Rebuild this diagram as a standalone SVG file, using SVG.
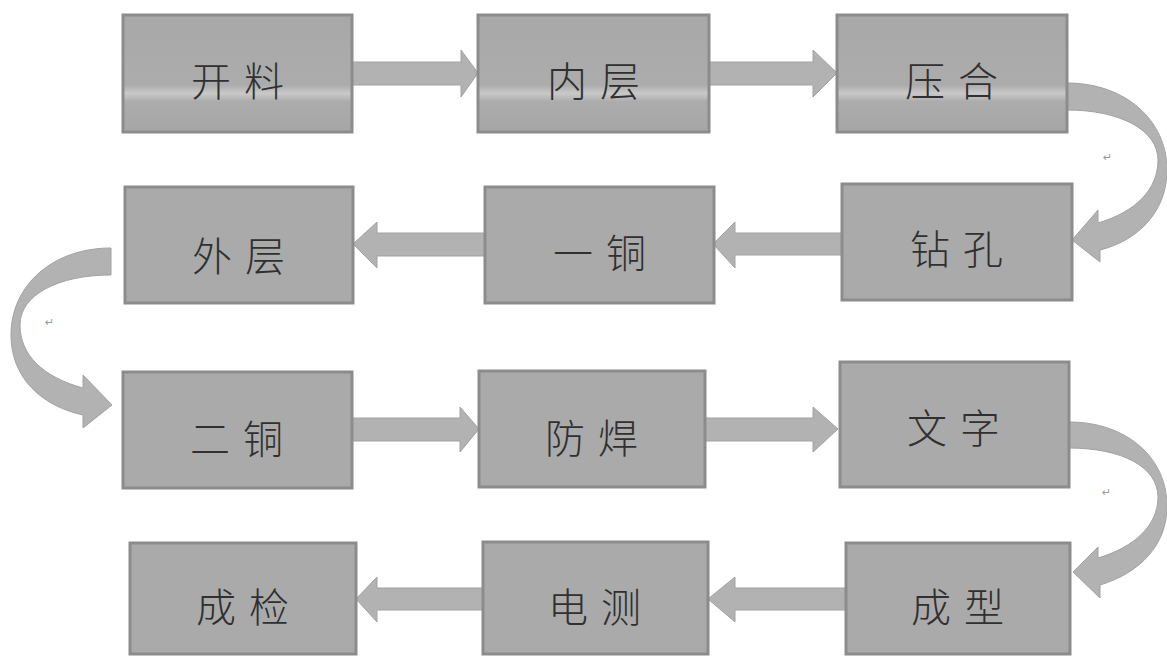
<svg xmlns="http://www.w3.org/2000/svg" width="1167" height="658" viewBox="0 0 1167 658">
<defs>
<style>
.box{fill:#aaaaaa;stroke:#8c8c8c;stroke-width:3}
.boxt{fill:url(#band);stroke:#8c8c8c;stroke-width:3}
.lbl{font-family:"Noto Sans CJK SC","Noto Sans CJK JP",sans-serif;font-size:40px;font-weight:300;fill:#303030;text-anchor:middle;dominant-baseline:central;letter-spacing:13px}
.arr{fill:#b2b2b2;stroke:#a2a2a2;stroke-width:1}
.mark{font-family:"DejaVu Sans",sans-serif;font-size:11px;fill:#9a9a9a}
</style>
<linearGradient id="band" x1="0" y1="0" x2="0" y2="1">
<stop offset="0" stop-color="#a8a8a8"/>
<stop offset="0.6" stop-color="#acacac"/>
<stop offset="0.67" stop-color="#c9c9c9"/>
<stop offset="0.74" stop-color="#acacac"/>
<stop offset="1" stop-color="#a6a6a6"/>
</linearGradient>
</defs>
<rect width="1167" height="658" fill="#ffffff"/>

<g id="connectors">
<polygon class="arr" points="352,62 461,62 461,50 478,73 461,97 461,85 352,85"/>
<polygon class="arr" points="709,62 813,62 813,50 837,73 813,97 813,85 709,85"/>
<polygon class="arr" points="842,233 735,233 735,222 713,244 735,268 735,255 842,255"/>
<polygon class="arr" points="485,233 377,233 377,222 353,244 377,268 377,256 485,256"/>
<polygon class="arr" points="352,418 460,418 460,407 479,429 460,452 460,441 352,441"/>
<polygon class="arr" points="705,418 813,418 813,407 838,429 813,452 813,441 705,441"/>
<polygon class="arr" points="846,588 735,588 735,577 708,599 735,622 735,610 846,610"/>
<polygon class="arr" points="483,588 377,588 377,577 356,599 377,622 377,610 483,610"/>
<path class="arr" d="M1067,83 C1125,83 1167,120 1167,170 C1167,210 1140,240 1100,250 L1100,262 L1072,240 L1098,210 L1098,223 C1135,212 1158,190 1158,160 C1158,130 1120,110 1067,110 Z"/>
<path class="arr" d="M111,248 C53,248 11,285 11,335 C11,375 38,405 83,415 L83,428 L112,405 L83,375 L83,388 C43,377 20,355 20,325 C20,295 58,275 111,275 Z"/>
<path class="arr" d="M1069,422 C1127,422 1167,458 1167,506 C1167,545 1140,573 1100,585 L1100,598 L1073,572 L1098,547 L1098,558 C1135,547 1158,525 1158,497 C1158,467 1122,448 1069,448 Z"/>
</g>

<g id="n1"><rect class="boxt" x="123" y="15" width="229" height="117"/><text class="lbl" x="244" y="79">开料</text></g>
<g id="n2"><rect class="boxt" x="478" y="15" width="231" height="117"/><text class="lbl" x="600" y="79">内层</text></g>
<g id="n3"><rect class="boxt" x="837" y="15" width="230" height="117"/><text class="lbl" x="958" y="79">压合</text></g>
<g id="n4"><rect class="box" x="842" y="184" width="230" height="116"/><text class="lbl" x="963" y="247">钻孔</text></g>
<g id="n5"><rect class="box" x="485" y="187" width="229" height="116"/><text class="lbl" x="606" y="251">一铜</text></g>
<g id="n6"><rect class="box" x="125" y="187" width="228" height="116"/><text class="lbl" x="245" y="254">外层</text></g>
<g id="n7"><rect class="box" x="123" y="372" width="229" height="116"/><text class="lbl" x="243" y="437">二铜</text></g>
<g id="n8"><rect class="box" x="479" y="371" width="226" height="116"/><text class="lbl" x="598" y="436">防焊</text></g>
<g id="n9"><rect class="box" x="840" y="362" width="229" height="125"/><text class="lbl" x="960" y="426">文字</text></g>
<g id="n10"><rect class="box" x="846" y="543" width="224" height="111"/><text class="lbl" x="964" y="605">成型</text></g>
<g id="n11"><rect class="box" x="483" y="542" width="225" height="112"/><text class="lbl" x="601" y="605">电测</text></g>
<g id="n12"><rect class="box" x="130" y="543" width="226" height="111"/><text class="lbl" x="249" y="605">成检</text></g>

<text class="mark" x="1103" y="161">↵</text>
<text class="mark" x="45" y="326">↵</text>
<text class="mark" x="1102" y="496">↵</text>
</svg>
